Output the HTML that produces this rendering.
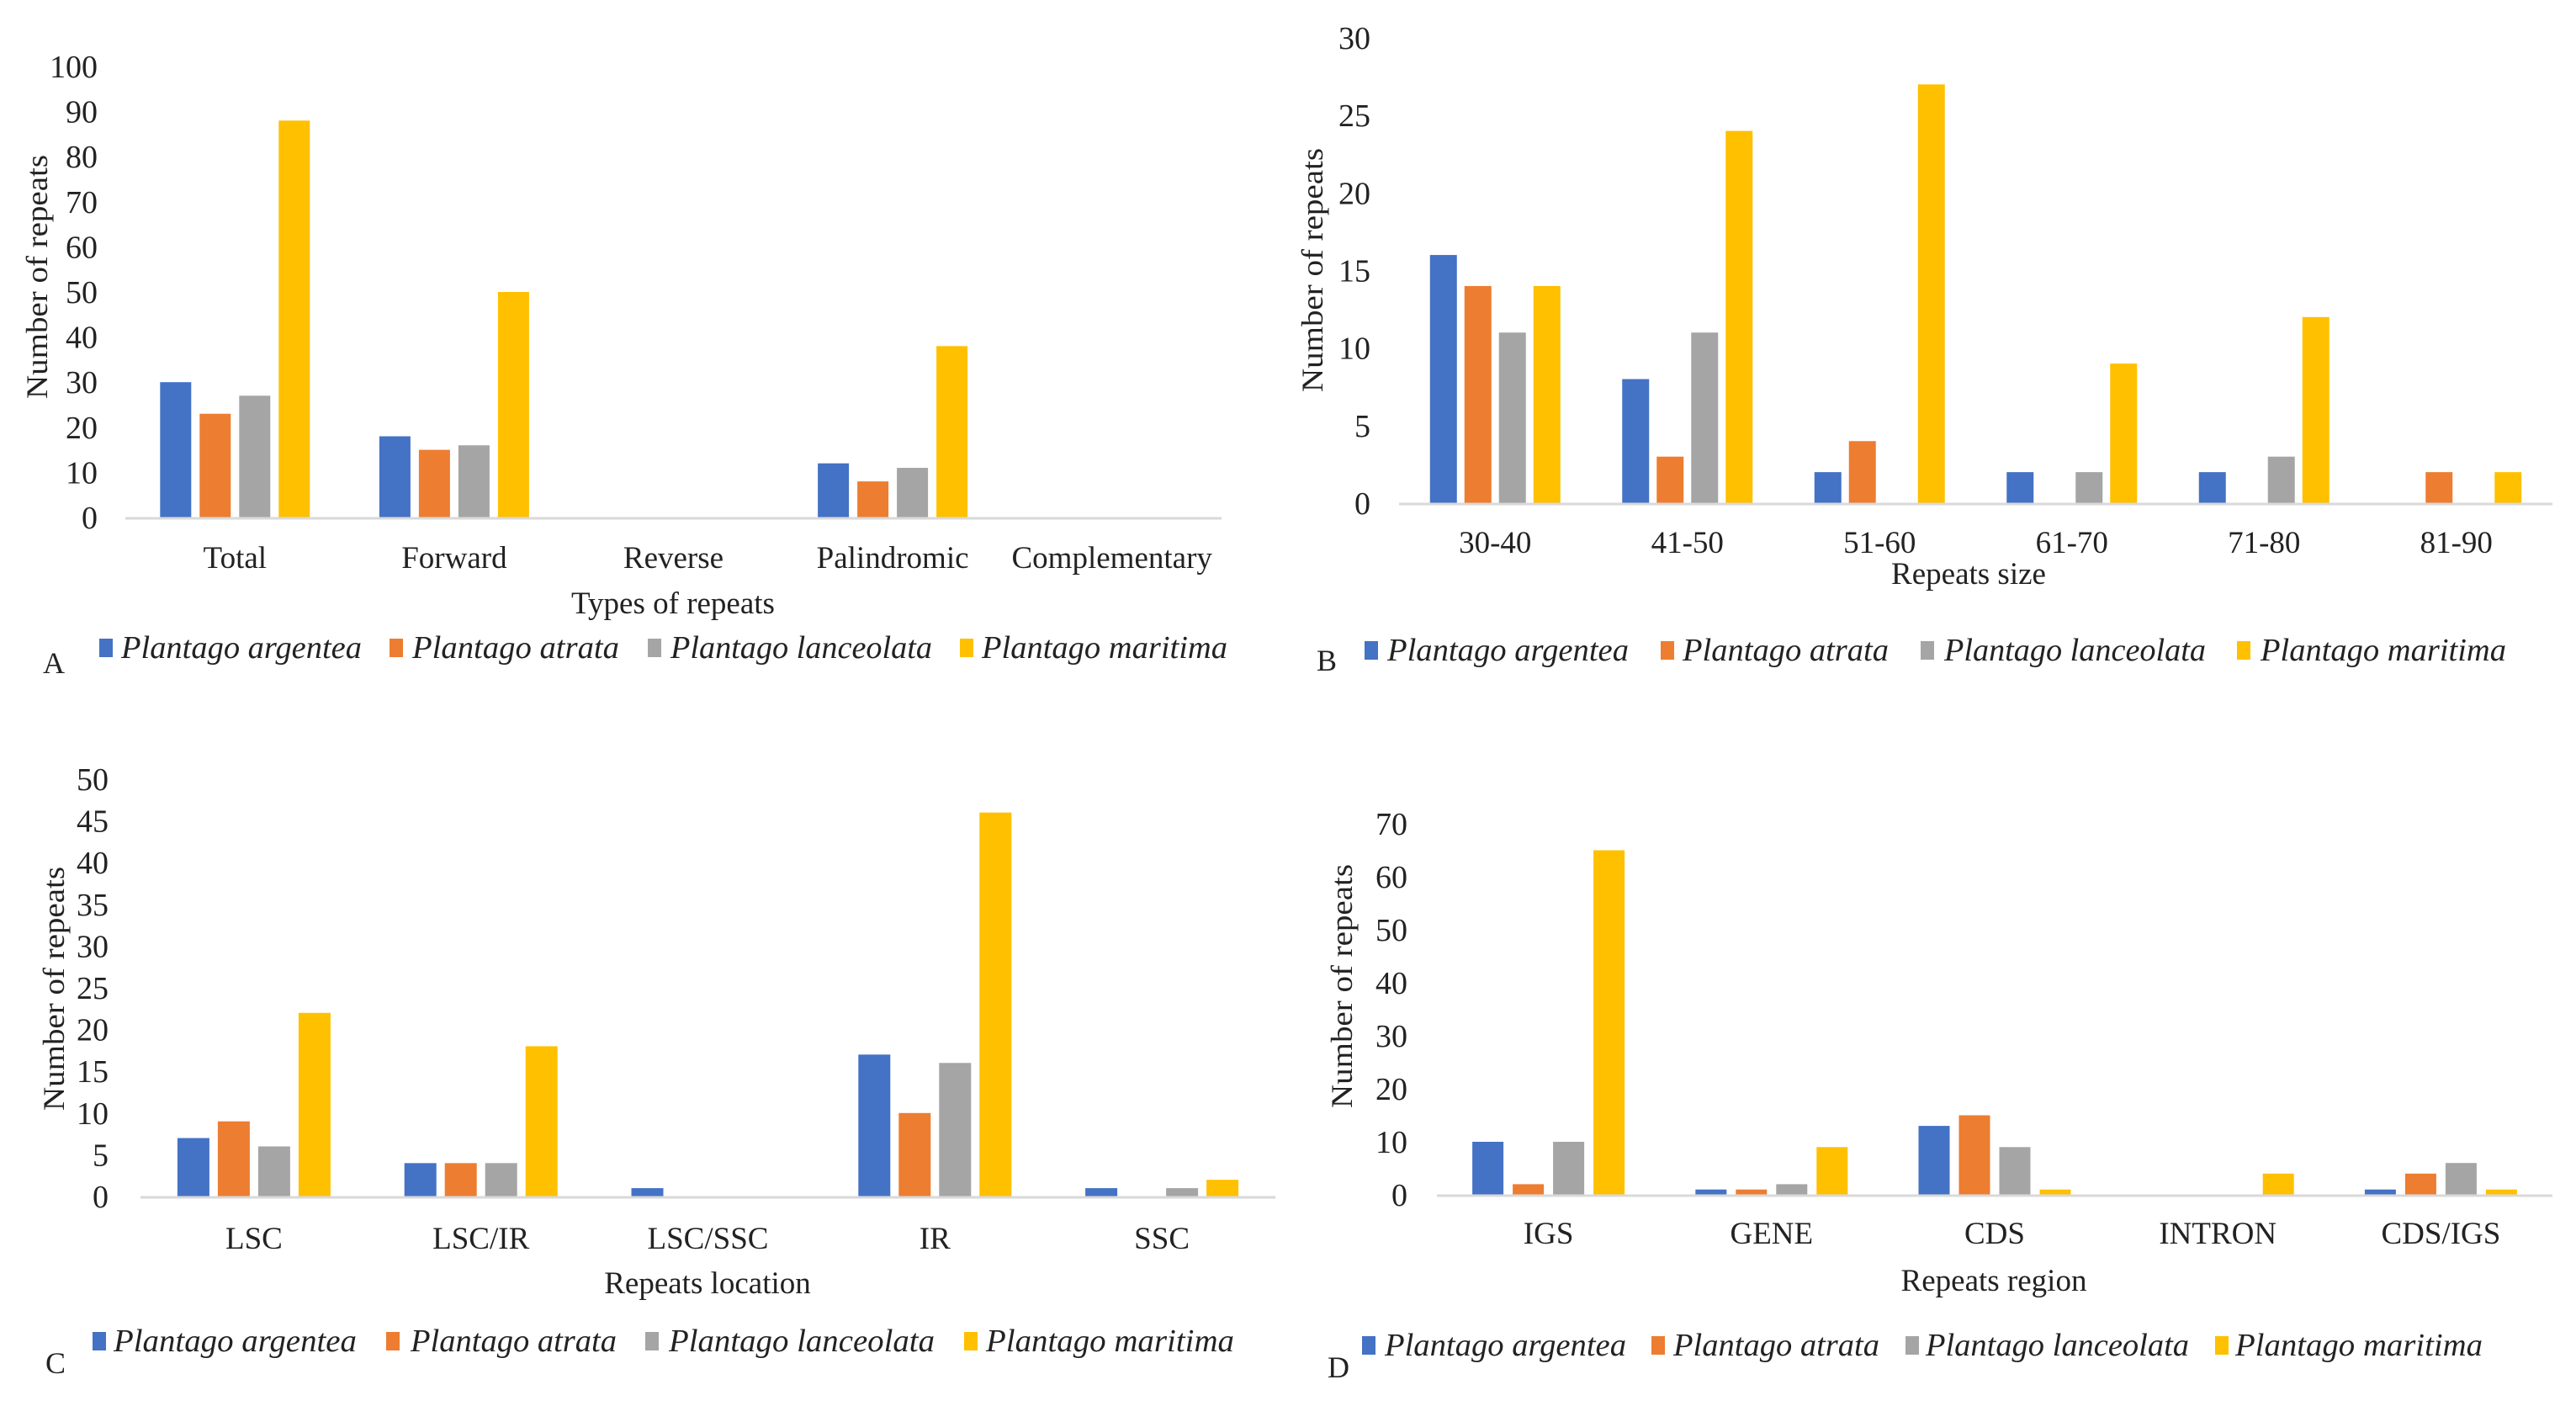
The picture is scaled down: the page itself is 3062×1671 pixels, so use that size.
<!DOCTYPE html>
<html><head><meta charset="utf-8">
<style>
html,body{margin:0;padding:0;background:#fff;}
svg{display:block;}
text{font-family:"Liberation Serif",serif;fill:#222;}
</style></head>
<body>
<svg id="fig" width="3062" height="1671" viewBox="0 0 3062 1671" xmlns="http://www.w3.org/2000/svg"></svg>
<script>
// ---- data ----
const seriesNames = ["Plantago argentea","Plantago atrata","Plantago lanceolata","Plantago maritima"];
const seriesColors = ["#4472C4","#ED7D31","#A5A5A5","#FFC000"];

const aCategories = ["Total","Forward","Reverse","Palindromic","Complementary"];
const aArgentea = [30,18,0,12,0];
const aAtrata = [23,15,0,8,0];
const aLanceolata = [27,16,0,11,0];
const aMaritima = [88,50,0,38,0];
const aTicks = [0,10,20,30,40,50,60,70,80,90,100];

const bCategories = ["30-40","41-50","51-60","61-70","71-80","81-90"];
const bArgentea = [16,8,2,2,2,0];
const bAtrata = [14,3,4,0,0,2];
const bLanceolata = [11,11,0,2,3,0];
const bMaritima = [14,24,27,9,12,2];
const bTicks = [0,5,10,15,20,25,30];

const cCategories = ["LSC","LSC/IR","LSC/SSC","IR","SSC"];
const cArgentea = [7,4,1,17,1];
const cAtrata = [9,4,0,10,0];
const cLanceolata = [6,4,0,16,1];
const cMaritima = [22,18,0,46,2];
const cTicks = [0,5,10,15,20,25,30,35,40,45,50];

const dCategories = ["IGS","GENE","CDS","INTRON","CDS/IGS"];
const dArgentea = [10,1,13,0,1];
const dAtrata = [2,1,15,0,4];
const dLanceolata = [10,2,9,0,6];
const dMaritima = [65,9,1,4,1];
const dTicks = [0,10,20,30,40,50,60,70];

// ---- layout ----
const panels = [
 {id:"a", letter:"A", cats:aCategories, series:[aArgentea,aAtrata,aLanceolata,aMaritima], ticks:aTicks,
  x0:149,x1:1452,yTop:79,yBot:615,bw:37,gap:10,tickX:116,catY:675,title:"Types of repeats",titleX:800,titleY:729,
  yTitleX:44,yTitleY:329,legY:770,leg:[[118,144,430],[463,490,736],[770,797,1108],[1141,1167,1459]],letX:51,letY:788},
 {id:"b", letter:"B", cats:bCategories, series:[bArgentea,bAtrata,bLanceolata,bMaritima], ticks:bTicks,
  x0:1663,x1:3034,yTop:45,yBot:598,bw:32,gap:9,tickX:1629,catY:657,title:"Repeats size",titleX:2340,titleY:694,
  yTitleX:1560,yTitleY:321,legY:773,leg:[[1622,1649,1936],[1974,2000,2245],[2283,2311,2622],[2659,2687,2979]],letX:1565,letY:785},
 {id:"c", letter:"C", cats:cCategories, series:[cArgentea,cAtrata,cLanceolata,cMaritima], ticks:cTicks,
  x0:167,x1:1516,yTop:926,yBot:1422,bw:38,gap:10,tickX:129,catY:1484,title:"Repeats location",titleX:841,titleY:1537,
  yTitleX:64,yTitleY:1175,legY:1594,leg:[[110,135,424],[459,488,733],[767,795,1111],[1146,1172,1467]],letX:54,letY:1620},
 {id:"d", letter:"D", cats:dCategories, series:[dArgentea,dAtrata,dLanceolata,dMaritima], ticks:dTicks,
  x0:1708,x1:3034,yTop:979,yBot:1420,bw:37,gap:11,tickX:1673,catY:1478,title:"Repeats region",titleX:2370,titleY:1534,
  yTitleX:1595,yTitleY:1172,legY:1599,leg:[[1619,1646,1933],[1963,1989,2234],[2265,2289,2602],[2633,2657,2951]],letX:1578,letY:1625}
];

const NS="http://www.w3.org/2000/svg";
const svg=document.getElementById("fig");
function mk(tag,attrs,parent){const e=document.createElementNS(NS,tag);for(const k in attrs)e.setAttribute(k,attrs[k]);(parent||svg).appendChild(e);return e;}

panels.forEach(p=>{
  const g=mk("g",{});
  
  
  const maxT=p.ticks[p.ticks.length-1];
  const yScale=v=>p.yBot-(v/maxT)*(p.yBot-p.yTop);
  const catW=(p.x1-p.x0)/p.cats.length;
  const xCenter=i=>p.x0+catW*(i+0.5);
  const groupW=4*p.bw+3*p.gap;
  p.ticks.forEach(t=>{
    const tx=mk("text",{x:p.tickX,y:yScale(t)+13,"text-anchor":"end","font-size":38},g);
    tx.textContent=t;
    
    
  });
  p.series.forEach((s,si)=>{
    s.forEach((v,ci)=>{
      if(v<=0) return;
      const x=xCenter(ci)-groupW/2+si*(p.bw+p.gap);
      const r=mk("rect",{x:x,y:yScale(v),width:p.bw,height:yScale(0)-yScale(v),fill:seriesColors[si]},g);
      
      
    });
  });
  const ax=mk("line",{x1:p.x0,x2:p.x1,y1:p.yBot+1,y2:p.yBot+1,stroke:"#D9D9D9","stroke-width":3},g);
  
  
  p.cats.forEach((c,ci)=>{
    const t=mk("text",{x:xCenter(ci),y:p.catY,"text-anchor":"middle","font-size":37},g);
    t.textContent=c;
    
    
  });
  const xt=mk("text",{x:p.titleX,y:p.titleY,"text-anchor":"middle","font-size":37},g);
  xt.textContent=p.title;
  
  
  const yt=mk("text",{x:0,y:0,"text-anchor":"middle","font-size":36,transform:`translate(${p.yTitleX+12},${p.yTitleY}) rotate(-90)`,textLength:290,lengthAdjust:"spacingAndGlyphs"},g);
  yt.textContent="Number of repeats";
  
  
  p.leg.forEach((L,si)=>{
    const m=mk("rect",{x:L[0],y:p.legY-11,width:16,height:22,fill:seriesColors[si]},g);
    
    
    const t=mk("text",{x:L[1],y:p.legY+12,"font-size":38,"font-style":"italic",textLength:L[2]-L[1],lengthAdjust:"spacingAndGlyphs"},g);
    t.textContent=seriesNames[si];
    
    
  });
  const lt=mk("text",{x:p.letX,y:p.letY+12,"font-size":36},g);
  lt.textContent=p.letter;
  
  
});
</script>
</body></html>
